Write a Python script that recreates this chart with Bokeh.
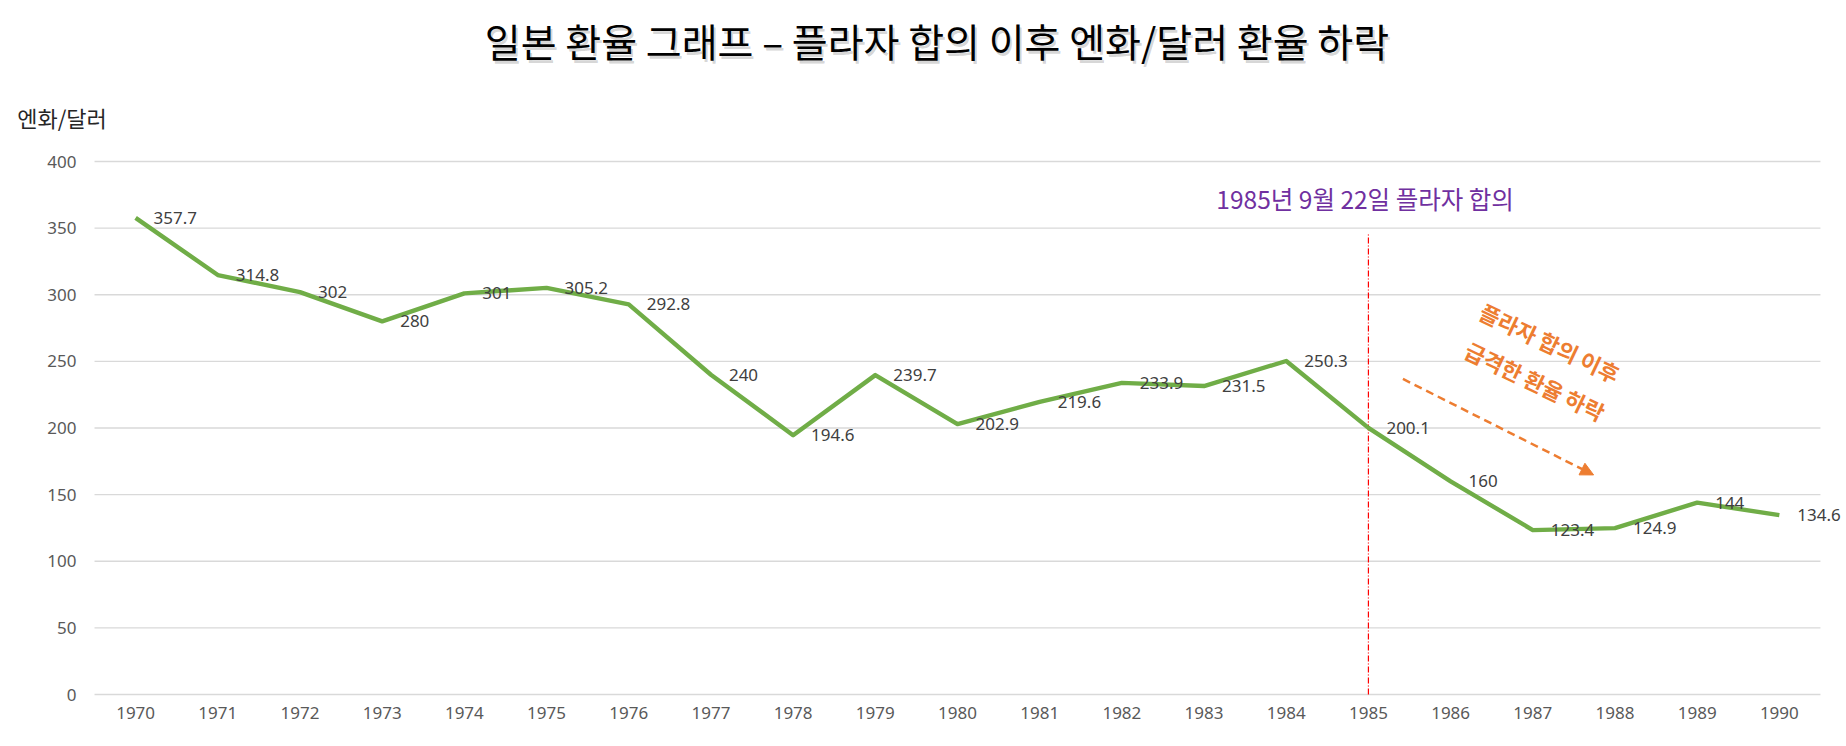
from bokeh.plotting import figure
from bokeh.models import Range1d, FixedTicker, Label, Arrow, NormalHead, ColumnDataSource
from bokeh.core.properties import value
from bokeh.embed import file_html
from bokeh.resources import INLINE

# ---- data ----
years = [1970, 1971, 1972, 1973, 1974, 1975, 1976, 1977, 1978, 1979, 1980,
         1981, 1982, 1983, 1984, 1985, 1986, 1987, 1988, 1989, 1990]
yen_per_dollar = [357.7, 314.8, 302, 280, 301, 305.2, 292.8, 240, 194.6, 239.7, 202.9,
                  219.6, 233.9, 231.5, 250.3, 200.1, 160, 123.4, 124.9, 144, 134.6]
y_ticks = [0, 50, 100, 150, 200, 250, 300, 350, 400]

title_text = "일본 환율 그래프 – 플라자 합의 이후 엔화/달러 환율 하락"
y_label_text = "엔화/달러"
plaza_text = "1985년 9월 22일 플라자 합의"
drop_line1 = "플라자 합의 이후"
drop_line2 = "급격한 환율 하락"
plaza_year = 1985

KR = "Noto Sans CJK KR"
NUM = "Noto Sans"

# plot area of the chart: x 1969.5..1990.5, y 0..400; the frame covers the whole canvas
X0, X1 = 1969.5, 1990.5
p = figure(width=1846, height=746, output_backend="svg", toolbar_location=None,
           x_range=Range1d(1968.356, 1990.817), y_range=Range1d(-39.02, 520.83),
           min_border=0, min_border_left=0, min_border_right=0,
           min_border_top=0, min_border_bottom=0)
p.outline_line_color = None
p.background_fill_color = "white"
p.border_fill_color = "white"

# axes (placed inside the frame at the plot-area edges)
p.xaxis.ticker = FixedTicker(ticks=years)
p.yaxis.ticker = FixedTicker(ticks=y_ticks)
p.xaxis.fixed_location = 0
p.yaxis.fixed_location = X0
for ax in (p.xaxis[0], p.yaxis[0]):
    ax.axis_line_color = None
    ax.major_tick_line_color = None
    ax.minor_tick_line_color = None
    ax.major_tick_out = 0
    ax.major_tick_in = 0
    ax.major_label_text_color = "#595959"
    ax.major_label_text_font = NUM
    ax.major_label_text_font_size = "17px"
p.yaxis.major_label_standoff = 18
p.xaxis.major_label_standoff = 12
p.xgrid.grid_line_color = None
p.ygrid.grid_line_color = None

# horizontal gridlines over the plot area
p.segment(x0=[X0] * len(y_ticks), y0=y_ticks, x1=[X1] * len(y_ticks), y1=y_ticks,
          line_color="#D9D9D9", line_width=1.3)

# vertical Plaza Accord marker
p.segment(x0=[plaza_year], y0=[0], x1=[plaza_year], y1=[346],
          line_color="#FF0000", line_width=1.2, line_dash="6 2 1 2")

# main line
src = ColumnDataSource(dict(x=years, y=yen_per_dollar,
                            lab=[f"{v:g}" for v in yen_per_dollar]))
p.line("x", "y", source=src, line_color="#70AD47", line_width=4.4, line_join="round")
p.text("x", "y", text="lab", source=src, x_offset=18, text_align="left",
       text_baseline="middle", text_font=value(NUM), text_font_size="17px",
       text_color="#404040")

# title (with soft shadow)
p.add_layout(Label(x=1979.75, y=491, text=title_text, text_font=KR, text_font_size="39px",
                   text_align="center", text_baseline="middle", text_color="#000000",
                   text_alpha=0.18, x_offset=2, y_offset=-3))
p.add_layout(Label(x=1979.75, y=491, text=title_text, text_font=KR, text_font_size="39px",
                   text_align="center", text_baseline="middle", text_color="#000000"))

# y axis title
p.add_layout(Label(x=1968.56, y=433.5, text=y_label_text, text_font=KR, text_font_size="22px",
                   text_align="left", text_baseline="middle", text_color="#262626"))

# Plaza Accord annotation
p.add_layout(Label(x=1983.15, y=372.5, text=plaza_text, text_font=KR, text_font_size="24.5px",
                   text_align="left", text_baseline="middle", text_color="#7030A0"))

# rotated orange annotation
ang = -0.445
p.add_layout(Label(x=1987.21, y=264.4, text=drop_line1, text_font=KR, text_font_size="22px",
                   text_font_style="bold", text_align="center", text_baseline="middle",
                   text_color="#ED7D31", angle=ang))
p.add_layout(Label(x=1987.03, y=235.6, text=drop_line2, text_font=KR, text_font_size="22px",
                   text_font_style="bold", text_align="center", text_baseline="middle",
                   text_color="#ED7D31", angle=ang))

p.add_layout(Arrow(end=NormalHead(size=13, fill_color="#ED7D31", line_color="#ED7D31"),
                   x_start=1985.42, y_start=236.8, x_end=1987.74, y_end=164.8,
                   line_color="#ED7D31", line_width=2.5, line_dash="8 5"))

open("out.html", "w").write(file_html(p, INLINE))
